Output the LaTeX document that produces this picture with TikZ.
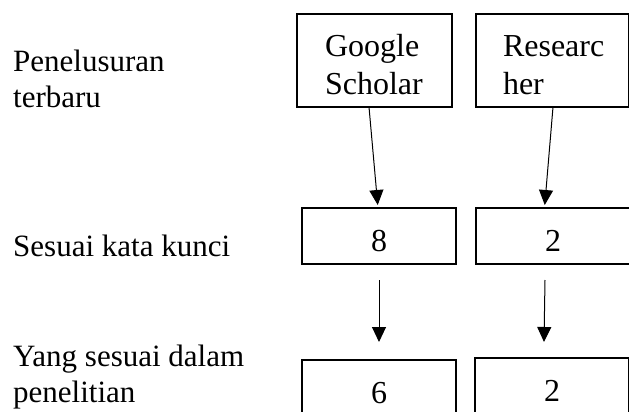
\documentclass[tikz,border=0pt]{standalone}
\usepackage{fontspec}
\setmainfont{Liberation Serif}
\newfontfamily\lblfont{Liberation Serif}
\usetikzlibrary{arrows.meta,positioning}

\begin{document}
\begin{tikzpicture}[
  x=1pt,y=-1pt,
  srcbox/.style={draw,line width=2pt,outer sep=0pt,minimum width=155pt,minimum height=93pt,align=left,text width=99pt,inner xsep=0pt,text height=20pt,text depth=27pt,font=\fontsize{32}{38}\selectfont},
  numbox/.style={draw,line width=2pt,outer sep=0pt,minimum width=154pt,minimum height=56pt,text height=30pt,text depth=0pt,font=\fontsize{32}{36}\selectfont},
  rowlabel/.style={anchor=base west,inner sep=0pt,align=left,font=\lblfont\fontsize{31}{36}\selectfont},
  flow/.style={-{Triangle[length=15pt,width=14pt]},line width=1pt}
]
\clip (0,0) rectangle (629,412);
% row labels
\node[rowlabel] (l1) at (13,107) {Penelusuran\\terbaru};
\node[rowlabel] (l2) at (13,256) {Sesuai kata kunci};
\node[rowlabel] (l3) at (13,402) {Yang sesuai dalam\\penelitian};
% sources
\node[srcbox] (gs) at (374.5,60.5) {Google\\Scholar};
\node[srcbox,right=24pt of gs,minimum width=153pt] (rg) {Researc\\her};
% counts
\node[numbox,below=101pt of gs,xshift=4.5pt] (n8) {8};
\node[numbox,right=20pt of n8] (n2a) {2};
\node[numbox,below=96pt of n8] (n6) {6};
\node[numbox,right=19pt of n6,yshift=2pt] (n2b) {2};
\draw[flow,shorten >=3pt] ([xshift=-5.5pt]gs.south) -- ([xshift=-1pt]n8.north);
\draw[flow,shorten >=3pt] ([xshift=0.5pt]rg.south) -- ([xshift=-8.5pt]n2a.north);
\draw[flow] ([yshift=-16pt]n8.south) -- ([yshift=18pt]n6.north);
\draw[flow] ([xshift=-8pt,yshift=-16pt]n2a.south) -- ([xshift=-8pt,yshift=16pt]n2b.north);
\end{tikzpicture}
\end{document}
